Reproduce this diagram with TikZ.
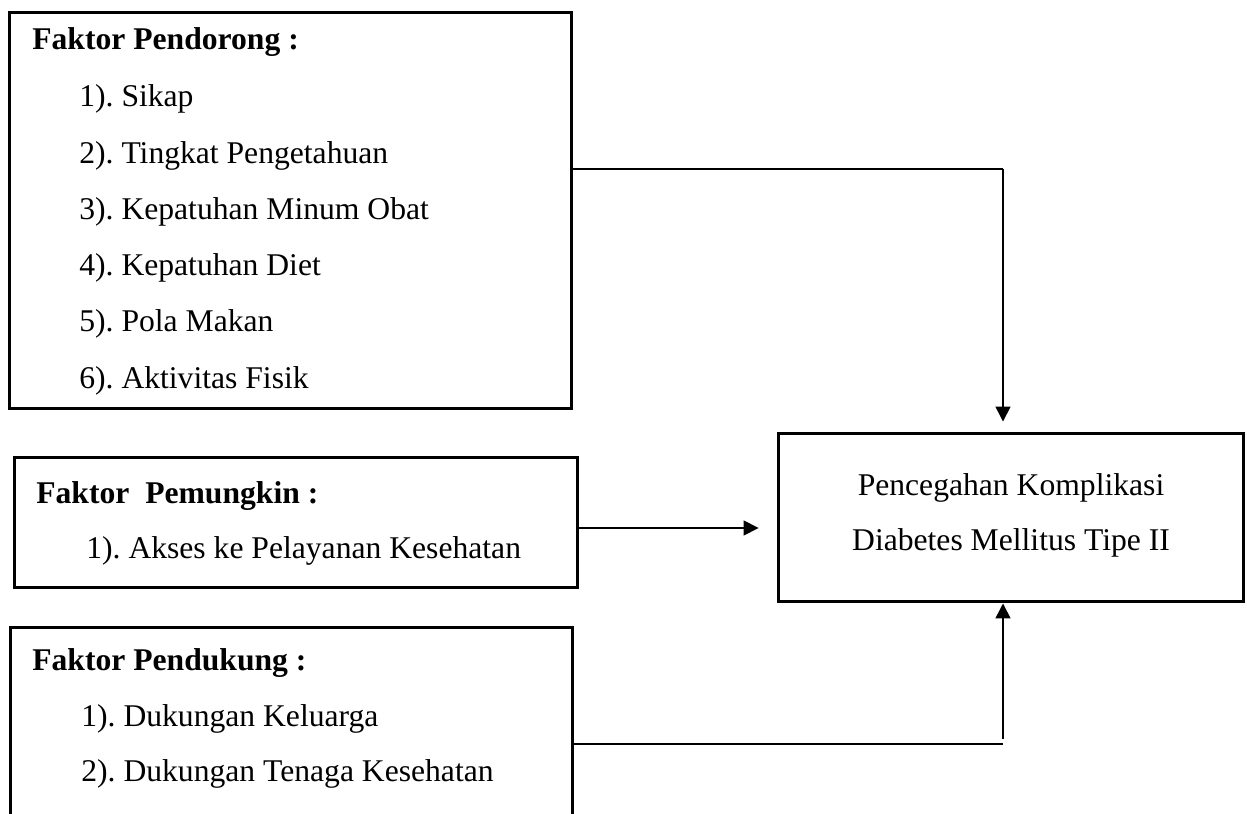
\documentclass[tikz,border=0pt]{standalone}
\usepackage{fontspec}
\setmainfont{Liberation Serif}
\usetikzlibrary{arrows.meta}
\frenchspacing

\tikzset{
  kotak/.style={draw, line width=1.7pt, rectangle, inner sep=0pt},
  teks/.style={anchor=base west, inner sep=0pt, font=\fontsize{18}{22}\selectfont},
  judul/.style={teks, font=\fontsize{18}{22}\selectfont\bfseries},
  panah/.style={line width=0.85pt, -{Triangle[length=0.3cm, width=0.3cm]}},
  garis/.style={line width=0.85pt}
}

\begin{document}
\begin{tikzpicture}[x=0.02cm, y=-0.02cm]
  \clip (0,0) rectangle (1247,814);
  \fill[white] (0,0) rectangle (1247,814);

  % kotak faktor
  \node[kotak, minimum width=11.26cm, minimum height=7.94cm] (pendorong) at (290.5,210.5) {};
  \node[kotak, minimum width=11.28cm, minimum height=2.62cm] (pemungkin) at (296,522.5) {};
  \node[kotak, minimum width=11.26cm, minimum height=5.46cm] (pendukung) at (291.5,763.5) {};

  % kotak hasil
  \node[kotak, minimum width=9.32cm, minimum height=3.38cm] (pencegahan) at (1011,517.5) {};

  % faktor pendorong
  \node[judul] (judul1) at (32,50) {Faktor Pendorong :};
  \foreach \i/\isi in {1/Sikap, 2/Tingkat Pengetahuan, 3/Kepatuhan Minum Obat,
                       4/Kepatuhan Diet, 5/Pola Makan, 6/Aktivitas Fisik} {
    \node[teks] (dorong\i) at (79,{107+(\i-1)*56.2}) {\i). \isi};
  }

  % faktor pemungkin
  \node[judul] (judul2) at (36,503) {Faktor~ Pemungkin :};
  \node[teks] (mungkin1) at (86,558) {1). Akses ke Pelayanan Kesehatan};

  % faktor pendukung
  \node[judul] (judul3) at (32,670) {Faktor Pendukung :};
  \node[teks] (dukung1) at (81,726) {1). Dukungan Keluarga};
  \node[teks] (dukung2) at (81,781) {2). Dukungan Tenaga Kesehatan};

  % hasil
  \node[teks, anchor=base] (hasil1) at (1011,495) {Pencegahan Komplikasi};
  \node[teks, anchor=base] (hasil2) at (1011,550) {Diabetes Mellitus Tipe II};

  % panah
  \coordinate (k1) at (1003,169);
  \coordinate (k2) at (0,528);
  \coordinate (k3) at (1003,744);
  \draw[garis] (pendorong.east |- k1) -- (k1);
  \draw[panah, shorten >=0.2cm] (k1) -- (k1 |- pencegahan.north);
  \draw[panah, shorten >=0.36cm] (pemungkin.east |- k2) -- (pencegahan.west |- k2);
  \draw[garis] (pendukung.east |- k3) -- (k3);
  \draw[panah] ([yshift=0.1cm]k3) -- (k3 |- pencegahan.south);

\end{tikzpicture}
\end{document}
